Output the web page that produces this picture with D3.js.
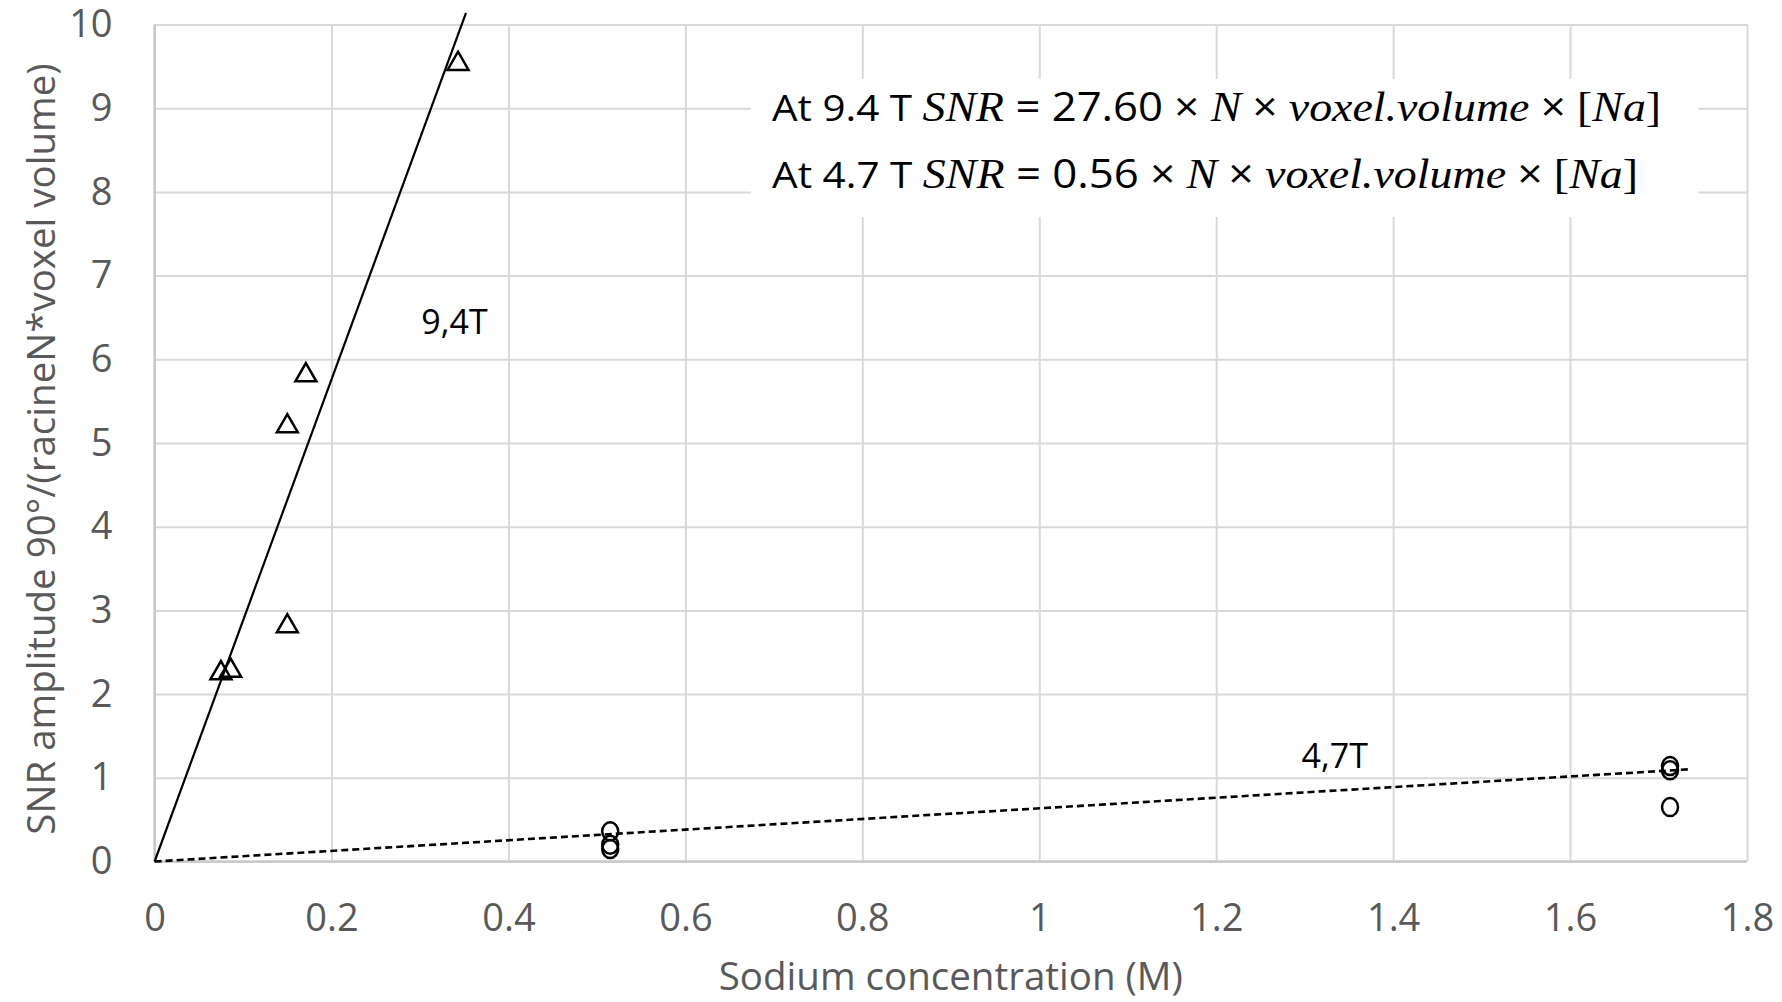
<!DOCTYPE html>
<html>
<head>
<meta charset="utf-8">
<script src="https://cdn.jsdelivr.net/npm/d3@7/dist/d3.min.js"></script>
<style>
  body { margin: 0; background: #fff; }
  svg { display: block; }
  .grid line { stroke: #d9d9d9; stroke-width: 2; }
  .tick text { fill: #595959; font-family: "Open Sans", sans-serif; font-size: 38px; }
  .lbl { font-family: "Open Sans", sans-serif; font-size: 34px; fill: #000; }
  .mth { font-family: "Liberation Serif", serif; font-style: italic; }
</style>
</head>
<body>
<script>
// 9.4T measurements (triangles)
var triX = [0.075, 0.086, 0.150, 0.150, 0.171, 0.343];
var triY = [2.25, 2.28, 2.81, 5.20, 5.81, 9.53];

// 4.7T measurements (circles)
var circX = [0.515, 0.515, 0.515, 1.713, 1.713, 1.713];
var circY = [0.36, 0.20, 0.15, 1.14, 1.09, 0.65];

// linear trendlines through origin
var fitSlope = [28.8, 0.635];
var fitEnd = [0.352, 1.736];
var fitName = ["9,4T", "4,7T"];

var xTicks = [0, 0.2, 0.4, 0.6, 0.8, 1, 1.2, 1.4, 1.6, 1.8];
var yTicks = [0, 1, 2, 3, 4, 5, 6, 7, 8, 9, 10];

var W = 1782, H = 1002;
var margin = {top: 24.5, right: 35, bottom: 140.5, left: 154.6},
    width = W - margin.left - margin.right,
    height = H - margin.top - margin.bottom;

var x = d3.scaleLinear().domain([0, 1.8]).range([0, width]);
var y = d3.scaleLinear().domain([0, 10]).range([height, 0]);

var svg = d3.select("body").append("svg")
    .attr("width", W)
    .attr("height", H)
  .append("g")
    .attr("transform", "translate(" + margin.left + "," + margin.top + ")");

// gridlines + tick labels
svg.append("g")
    .attr("class", "grid")
    .call(d3.axisLeft(y).tickValues(yTicks).tickSize(-width).tickPadding(42).tickFormat(String))
    .call(function(g) { g.select(".domain").remove(); });

svg.append("g")
    .attr("class", "grid")
    .attr("transform", "translate(0," + height + ")")
    .call(d3.axisBottom(x).tickValues(xTicks).tickSize(-height).tickPadding(43).tickFormat(String))
    .call(function(g) { g.select(".domain").remove(); });

// axis borders a bit darker
svg.append("line").attr("x1", 0).attr("x2", 0).attr("y1", 0).attr("y2", height)
    .attr("stroke", "#c8c8c8").attr("stroke-width", 2.5);
svg.append("line").attr("x1", 0).attr("x2", width).attr("y1", height).attr("y2", height)
    .attr("stroke", "#c8c8c8").attr("stroke-width", 2.5);

// equation box
svg.append("rect")
    .attr("x", x(0.674)).attr("y", y(9.35))
    .attr("width", x(1.745) - x(0.674)).attr("height", y(7.7) - y(9.35))
    .attr("fill", "#fff");

var eqs = [
  {y: 9.0, head: "At 9.4 T ", k: "27.60", len: 889},
  {y: 8.2, head: "At 4.7 T ", k: "0.56", len: 866}
];
eqs.forEach(function(e) {
  var t = svg.append("text")
      .attr("class", "lbl")
      .attr("x", x(0.698))
      .attr("y", y(e.y))
      .attr("dy", "0.35em")
      .attr("textLength", e.len)
      .attr("lengthAdjust", "spacingAndGlyphs")
      .style("font-size", "37px");
  t.append("tspan").text(e.head);
  t.append("tspan").attr("class", "mth").style("font-size", "42px").text("SNR");
  t.append("tspan").style("font-size", "40px").text(" = " + e.k + " × ");
  t.append("tspan").attr("class", "mth").style("font-size", "42px").text("N");
  t.append("tspan").style("font-size", "40px").text(" × ");
  t.append("tspan").attr("class", "mth").style("font-size", "42px").text("voxel.volume");
  t.append("tspan").style("font-size", "40px").text(" × ");
  t.append("tspan").style("font-family", "Liberation Serif, serif").style("font-size", "42px").text("[");
  t.append("tspan").attr("class", "mth").style("font-size", "42px").text("Na");
  t.append("tspan").style("font-family", "Liberation Serif, serif").style("font-size", "42px").text("]");
});

// trendlines
var line = d3.line()
    .x(function(d) { return x(d[0]); })
    .y(function(d) { return y(d[1]); });

fitSlope.forEach(function(s, i) {
  svg.append("path")
      .datum([[0, 0], [fitEnd[i], s * fitEnd[i]]])
      .attr("d", line)
      .attr("fill", "none")
      .attr("stroke", "#000")
      .attr("stroke-width", i === 0 ? 2.2 : 2.6)
      .attr("stroke-dasharray", i === 0 ? null : "7,4");
});

// trendline labels
svg.append("text").attr("class", "lbl")
    .attr("x", x(0.339)).attr("y", y(6.3))
    .attr("text-anchor", "middle")
    .text(fitName[0]);
svg.append("text").attr("class", "lbl")
    .attr("x", x(1.334)).attr("y", y(1.12))
    .attr("text-anchor", "middle")
    .text(fitName[1]);

// markers
var tri = d3.symbol().type(d3.symbolTriangle).size(190);
svg.selectAll(".tri")
    .data(triX.map(function(v, i) { return [v, triY[i]]; }))
  .enter().append("path")
    .attr("class", "tri")
    .attr("d", tri)
    .attr("transform", function(d) { return "translate(" + x(d[0]) + "," + y(d[1]) + ")"; })
    .attr("fill", "none")
    .attr("stroke", "#000")
    .attr("stroke-width", 2.5);

svg.selectAll(".circ")
    .data(circX.map(function(v, i) { return [v, circY[i]]; }))
  .enter().append("ellipse")
    .attr("class", "circ")
    .attr("cx", function(d) { return x(d[0]); })
    .attr("cy", function(d) { return y(d[1]); })
    .attr("rx", 8)
    .attr("ry", 9)
    .attr("fill", "none")
    .attr("stroke", "#000")
    .attr("stroke-width", 2.5);

// axis titles
svg.append("text")
    .attr("x", width / 2)
    .attr("y", height + 115)
    .attr("text-anchor", "middle")
    .attr("dy", "0.35em")
    .style("font-family", "Open Sans, sans-serif")
    .style("font-size", "38.5px")
    .style("fill", "#595959")
    .text("Sodium concentration (M)");

svg.append("text")
    .attr("transform", "translate(" + (42 - margin.left) + "," + (height / 2 + 6) + ") rotate(-90)")
    .attr("text-anchor", "middle")
    .attr("dy", "0.35em")
    .style("font-family", "Open Sans, sans-serif")
    .style("font-size", "38.5px")
    .style("fill", "#595959")
    .text("SNR amplitude 90°/(racineN*voxel volume)");
</script>
</body>
</html>
